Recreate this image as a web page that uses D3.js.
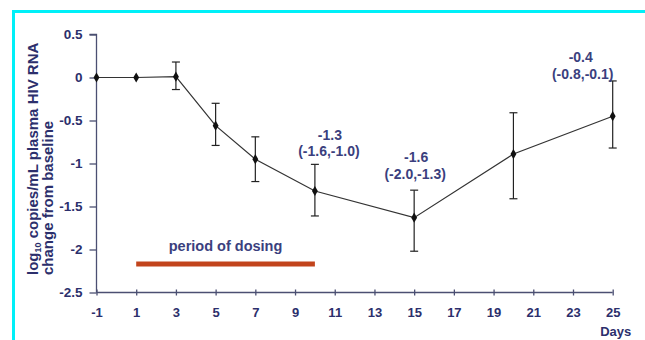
<!DOCTYPE html>
<html><head><meta charset="utf-8">
<script src="https://cdn.jsdelivr.net/npm/d3@7"></script>
<style>body{margin:0;background:#fff}svg{display:block}text{font-family:"Liberation Sans",Arial,sans-serif;font-weight:bold}</style>
</head><body>
<script>
const days = [-1, 1, 3, 5, 7, 10, 15, 20, 25];
const meanChange = [0, 0, 0.01, -0.56, -0.95, -1.32, -1.63, -0.89, -0.45];
const ciUpper = [null, null, 0.18, -0.30, -0.69, -1.01, -1.31, -0.41, -0.04];
const ciLower = [null, null, -0.14, -0.79, -1.21, -1.61, -2.02, -1.41, -0.82];
const xTicks = [-1, 1, 3, 5, 7, 9, 11, 13, 15, 17, 19, 21, 23, 25];
const yTicks = [0.5, 0, -0.5, -1, -1.5, -2, -2.5];
const yTickLabels = ["0.5", "0", "-0.5", "-1", "-1.5", "-2", "-2.5"];
const dosingPeriod = [1, 10];
const dosingLevel = -2.17;
const dosingLabel = "period of dosing";
const annotations = [
  {day: 10, value: "-1.3", ci: "(-1.6,-1.0)"},
  {day: 15, value: "-1.6", ci: "(-2.0,-1.3)"},
  {day: 25, value: "-0.4", ci: "(-0.8,-0.1)"}
];

const W = 645, H = 340;
const svg = d3.select("body").append("svg").attr("width", W).attr("height", H);

// cyan frame
svg.append("line").attr("x1", 12).attr("x2", W).attr("y1", 11.5).attr("y2", 11.5).attr("stroke", "#00f0f8").attr("stroke-width", 3);
svg.append("line").attr("x1", 13.5).attr("x2", 13.5).attr("y1", 10).attr("y2", H).attr("stroke", "#00f0f8").attr("stroke-width", 3);

const x = d3.scaleLinear().domain([-1, 25]).range([96.5, 612.7]);
const y = d3.scaleLinear().domain([-2.5, 0.5]).range([292.5, 34.5]);

const axisCol = "#4b4f72", textCol = "#2c2f6c", annCol = "#3b3f7e";

// y axis
const yAxis = svg.append("g").attr("transform", `translate(${x(-1)},0)`)
  .call(d3.axisLeft(y).tickValues(yTicks).tickFormat((d, i) => yTickLabels[i]).tickSize(7).tickPadding(7));
yAxis.select(".domain").attr("stroke", axisCol).attr("stroke-width", 1.3).attr("d", `M-7,${y(0.5)}H0V${y(-2.5)}`);
yAxis.selectAll(".tick line").attr("stroke", axisCol).attr("stroke-width", 1.3);
yAxis.selectAll(".tick text").attr("fill", textCol).style("font-size", "13.5px").style("font-weight", "bold").attr("font-family", null);

// x axis
const xAxis = svg.append("g").attr("transform", `translate(0,${y(-2.5)})`)
  .call(d3.axisBottom(x).tickValues(xTicks).tickFormat(d => String(d)).tickSize(3).tickPadding(12));
xAxis.select(".domain").attr("stroke", axisCol).attr("stroke-width", 1.3).attr("d", `M${x(-1)},0H${x(25)}`);
xAxis.selectAll(".tick line").attr("stroke", axisCol).attr("stroke-width", 1.3).attr("y1", -3).attr("y2", 3);
xAxis.selectAll(".tick text").attr("fill", textCol).style("font-size", "13px").style("font-weight", "bold").attr("font-family", null);

svg.append("text").attr("x", x(25) + 3).attr("y", 336).attr("text-anchor", "middle")
  .attr("fill", textCol).style("font-size", "13px").text("Days");

// y label
const yl = svg.append("text").attr("transform", `translate(38,275) rotate(-90)`).attr("fill", textCol).style("font-size", "15px");
yl.append("tspan").text("log");
yl.append("tspan").attr("dy", 3).style("font-size", "9px").text("10");
yl.append("tspan").attr("dy", -3).text(" copies/mL plasma HIV RNA");
svg.append("text").attr("transform", `translate(52.5,275) rotate(-90)`).attr("fill", textCol).style("font-size", "15px").text("change from baseline");

// dosing bar
svg.append("line").attr("x1", x(dosingPeriod[0])).attr("x2", x(dosingPeriod[1]))
  .attr("y1", y(dosingLevel)).attr("y2", y(dosingLevel)).attr("stroke", "#c2441c").attr("stroke-width", 5);
svg.append("text").attr("x", (x(dosingPeriod[0]) + x(dosingPeriod[1])) / 2).attr("y", y(dosingLevel) - 13)
  .attr("text-anchor", "middle").attr("fill", annCol).style("font-size", "14.5px").text(dosingLabel);

const pts = days.map((d, i) => ({d, v: meanChange[i], hi: ciUpper[i], lo: ciLower[i]}));

// error bars
const eb = svg.append("g").attr("stroke", "#222").attr("stroke-width", 1.2);
pts.filter(p => p.hi !== null).forEach(p => {
  eb.append("line").attr("x1", x(p.d)).attr("x2", x(p.d)).attr("y1", y(p.hi)).attr("y2", y(p.lo));
  eb.append("line").attr("x1", x(p.d) - 4).attr("x2", x(p.d) + 4).attr("y1", y(p.hi)).attr("y2", y(p.hi));
  eb.append("line").attr("x1", x(p.d) - 4).attr("x2", x(p.d) + 4).attr("y1", y(p.lo)).attr("y2", y(p.lo));
});

// line
svg.append("path").datum(pts).attr("fill", "none").attr("stroke", "#333").attr("stroke-width", 1.2)
  .attr("d", d3.line().x(p => x(p.d)).y(p => y(p.v)));
svg.append("g").selectAll("path").data(pts).join("path")
  .attr("transform", p => `translate(${x(p.d)},${y(p.v)})`)
  .attr("d", d3.symbol(d3.symbolDiamond, 30)).attr("fill", "#111");

// annotations
const annOffsets = {10: [15, 140, 156], 15: [2, 162, 179], 25: [-32, 62, 79]};
annotations.forEach(a => {
  const o = annOffsets[a.day];
  const g = svg.append("g").attr("fill", annCol).style("font-size", "14px").attr("text-anchor", "middle");
  g.append("text").attr("x", x(a.day) + o[0]).attr("y", o[1]).text(a.value);
  g.append("text").attr("x", x(a.day) + o[0] + (a.day === 25 ? 2 : -1)).attr("y", o[2]).text(a.ci);
});
</script>
</body></html>
